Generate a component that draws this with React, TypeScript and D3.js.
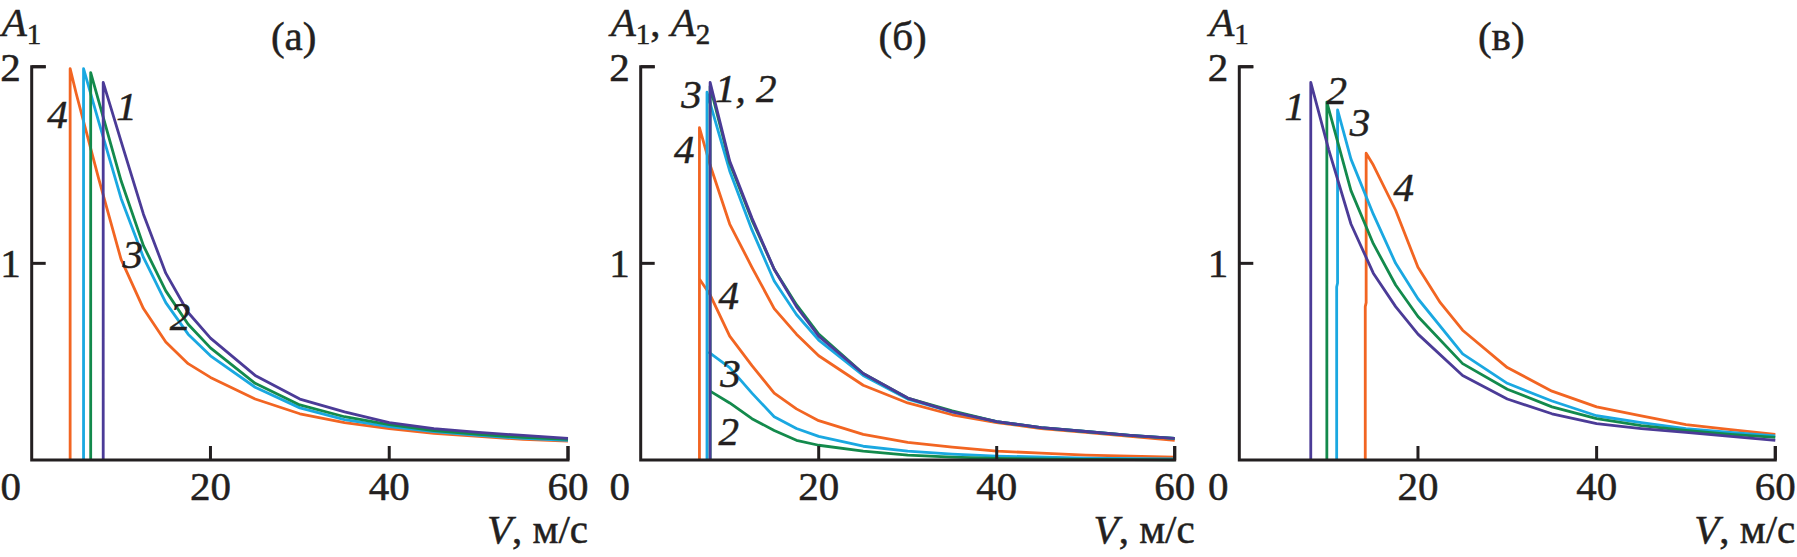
import React from "react";
import * as d3 from "d3";

type Pt = [number, number];

// Panel (a): A1 vs V
const a1: Pt[] = [[8.0, 0], [8.0, 1.92], [10, 1.62], [12.5, 1.25], [15, 0.95], [17.5, 0.75], [20, 0.62], [25, 0.43], [30, 0.31], [35, 0.245], [40, 0.19], [45, 0.16], [50, 0.14], [55, 0.125], [60, 0.11]];
const a2: Pt[] = [[6.6, 0], [6.6, 1.97], [10, 1.42], [12.5, 1.09], [15, 0.86], [17.5, 0.69], [20, 0.57], [25, 0.39], [30, 0.28], [35, 0.22], [40, 0.18], [45, 0.15], [50, 0.13], [55, 0.115], [60, 0.105]];
const a3: Pt[] = [[5.8, 0], [5.8, 1.99], [7.5, 1.72], [10, 1.33], [12.5, 1.03], [15, 0.8], [17.5, 0.64], [20, 0.53], [25, 0.37], [30, 0.265], [35, 0.205], [40, 0.17], [45, 0.145], [50, 0.125], [55, 0.11], [60, 0.1]];
const a4: Pt[] = [[4.3, 0], [4.3, 1.99], [5, 1.86], [7.5, 1.43], [10, 1.02], [12.5, 0.77], [15, 0.6], [17.5, 0.49], [20, 0.42], [25, 0.31], [30, 0.235], [35, 0.19], [40, 0.16], [45, 0.135], [50, 0.12], [55, 0.105], [60, 0.096]];

// Panel (б): A1 (upper) and A2 (lower)
const b1: Pt[] = [[7.8, 0], [7.8, 1.92], [10, 1.52], [12.5, 1.23], [15, 0.97], [17.5, 0.78], [20, 0.63], [25, 0.44], [30, 0.315], [35, 0.245], [40, 0.195], [45, 0.165], [50, 0.145], [55, 0.125], [60, 0.11]];
const b2: Pt[] = [[7.8, 0], [7.8, 1.9], [10, 1.51], [12.5, 1.22], [15, 0.97], [17.5, 0.79], [20, 0.64], [25, 0.44], [30, 0.315], [35, 0.25], [40, 0.195], [45, 0.165], [50, 0.145], [55, 0.125], [60, 0.11]];
const b3: Pt[] = [[7.45, 0], [7.45, 1.87], [10, 1.47], [12.5, 1.17], [15, 0.91], [17.5, 0.74], [20, 0.61], [25, 0.43], [30, 0.31], [35, 0.245], [40, 0.195], [45, 0.165], [50, 0.145], [55, 0.125], [60, 0.11]];
const b4: Pt[] = [[6.6, 0], [6.6, 1.69], [7.8, 1.5], [10, 1.2], [12.5, 0.98], [15, 0.77], [17.5, 0.64], [20, 0.53], [25, 0.38], [30, 0.29], [35, 0.23], [40, 0.19], [45, 0.16], [50, 0.14], [55, 0.12], [60, 0.1]];
const b2low: Pt[] = [[7.8, 0.35], [10, 0.29], [12.5, 0.21], [15, 0.15], [17.5, 0.1], [20, 0.075], [25, 0.045], [30, 0.025], [35, 0.015], [40, 0.008], [50, 0.003], [60, 0.001]];
const b3low: Pt[] = [[7.6, 0.55], [10, 0.47], [12.5, 0.34], [15, 0.22], [17.5, 0.16], [20, 0.12], [25, 0.07], [30, 0.045], [35, 0.03], [40, 0.02], [50, 0.01], [60, 0.005]];
const b4low: Pt[] = [[6.6, 0.92], [7.8, 0.84], [10, 0.63], [12.5, 0.48], [15, 0.34], [17.5, 0.26], [20, 0.2], [25, 0.13], [30, 0.09], [35, 0.065], [40, 0.045], [45, 0.035], [50, 0.025], [55, 0.02], [60, 0.015]];

// Panel (в): A1 vs V
const c1: Pt[] = [[8.0, 0], [8.0, 1.92], [10, 1.58], [12.5, 1.2], [15, 0.95], [17.5, 0.78], [20, 0.64], [25, 0.43], [30, 0.31], [35, 0.235], [40, 0.185], [45, 0.16], [50, 0.14], [55, 0.12], [60, 0.1]];
const c2: Pt[] = [[9.8, 0], [9.8, 1.82], [12.5, 1.37], [15, 1.1], [17.5, 0.89], [20, 0.73], [25, 0.49], [30, 0.36], [35, 0.27], [40, 0.21], [45, 0.175], [50, 0.15], [55, 0.13], [60, 0.115]];
const c3: Pt[] = [[10.9, 0], [10.9, 0.88], [11.0, 0.9], [11.0, 1.78], [12.5, 1.53], [15, 1.25], [17.5, 1.0], [20, 0.82], [25, 0.54], [30, 0.39], [35, 0.3], [40, 0.225], [45, 0.19], [50, 0.16], [55, 0.14], [60, 0.123]];
const c4: Pt[] = [[14.1, 0], [14.1, 0.78], [14.2, 0.8], [14.2, 1.56], [15, 1.5], [17.5, 1.27], [20, 0.98], [22.5, 0.8], [25, 0.66], [30, 0.47], [35, 0.35], [40, 0.27], [45, 0.225], [50, 0.18], [55, 0.155], [60, 0.13]];

const xTicks = [20, 40, 60];
const yTicks = [1, 2];
const panelTitles = ["(а)", "(б)", "(в)"];

const COL = {
  purple: "#4b3b97",
  green: "#138a4c",
  cyan: "#1aa8e1",
  orange: "#f26522",
};

const FONT = "'Liberation Serif', 'Times New Roman', serif";
const FS = 41;
const INK = "#231f20";

type Series = { data: Pt[]; color: string };
type Lbl = { text: string; v: number; a: number };

const panels: { x0: number; w: number; title: string; yLabel: string[]; series: Series[]; labels: Lbl[] }[] = [
  {
    x0: 31.7,
    w: 536.3,
    title: panelTitles[0],
    yLabel: ["1"],
    series: [
      { data: a4, color: COL.orange },
      { data: a3, color: COL.cyan },
      { data: a2, color: COL.green },
      { data: a1, color: COL.purple },
    ],
    labels: [
      { text: "4", v: 2.9, a: 1.76 },
      { text: "1", v: 10.6, a: 1.8 },
      { text: "3", v: 11.3, a: 1.05 },
      { text: "2", v: 16.6, a: 0.73 },
    ],
  },
  {
    x0: 640.7,
    w: 534,
    title: panelTitles[1],
    yLabel: ["1", "2"],
    series: [
      { data: b4low, color: COL.orange },
      { data: b3low, color: COL.cyan },
      { data: b2low, color: COL.green },
      { data: b4, color: COL.orange },
      { data: b3, color: COL.cyan },
      { data: b2, color: COL.green },
      { data: b1, color: COL.purple },
    ],
    labels: [
      { text: "3", v: 5.7, a: 1.86 },
      { text: "1, 2", v: 11.8, a: 1.89 },
      { text: "4", v: 4.9, a: 1.58 },
      { text: "4", v: 9.9, a: 0.84 },
      { text: "3", v: 10.1, a: 0.44 },
      { text: "2", v: 9.9, a: 0.15 },
    ],
  },
  {
    x0: 1239.3,
    w: 536,
    title: panelTitles[2],
    yLabel: ["1"],
    series: [
      { data: c4, color: COL.orange },
      { data: c3, color: COL.cyan },
      { data: c2, color: COL.green },
      { data: c1, color: COL.purple },
    ],
    labels: [
      { text: "1", v: 6.2, a: 1.8 },
      { text: "2", v: 10.9, a: 1.88 },
      { text: "3", v: 13.5, a: 1.72 },
      { text: "4", v: 18.4, a: 1.39 },
    ],
  },
];

const Y0 = 460;
const Y2 = 66.7;

function Panel({ p }: { p: (typeof panels)[number] }) {
  const x = d3.scaleLinear().domain([0, 60]).range([p.x0, p.x0 + p.w]);
  const y = d3.scaleLinear().domain([0, 2]).range([Y0, Y2]);
  const line = d3
    .line<Pt>()
    .x((d) => x(d[0]))
    .y((d) => y(d[1]));
  const tick = 14;
  const txt = { fontSize: FS, fontFamily: FONT, fill: INK, stroke: INK, strokeWidth: 0.5 };
  return (
    <g>
      {p.series.map((s, i) => (
        <path key={i} d={line(s.data) || ""} fill="none" stroke={s.color} strokeWidth={2.8} strokeLinejoin="round" />
      ))}
      {/* axes */}
      <path
        d={`M${x(0) + tick},${y(2)} H${x(0)} V${y(0)} H${x(60)} V${y(0) - tick}`}
        fill="none"
        stroke={INK}
        strokeWidth={3}
      />
      {yTicks.map((t) => (
        <line key={"yt" + t} x1={x(0)} x2={x(0) + tick} y1={y(t)} y2={y(t)} stroke={INK} strokeWidth={3} />
      ))}
      {xTicks.map((t) => (
        <line key={"xt" + t} x1={x(t)} x2={x(t)} y1={y(0)} y2={y(0) - tick} stroke={INK} strokeWidth={3} />
      ))}
      {/* tick labels */}
      {yTicks.map((t) => (
        <text key={"yl" + t} x={x(0) - 11} y={y(t) + 14} textAnchor="end" {...txt}>
          {t}
        </text>
      ))}
      <text x={x(0) - 21} y={500} textAnchor="middle" {...txt}>
        0
      </text>
      {xTicks.map((t) => (
        <text key={"xl" + t} x={x(t)} y={500} textAnchor="middle" {...txt}>
          {t}
        </text>
      ))}
      {/* axis titles */}
      <text x={x(60) + 20} y={543} textAnchor="end" {...txt}>
        <tspan fontStyle="italic">V</tspan>, м/с
      </text>
      <text x={x(0) - 30} y={36} {...txt}>
        {p.yLabel.map((s, i) => (
          <React.Fragment key={i}>
            {i > 0 ? <tspan dy={-8}>, </tspan> : null}
            <tspan fontStyle="italic">A</tspan>
            <tspan fontSize={29} dy={8}>{s}</tspan>
          </React.Fragment>
        ))}
      </text>
      <text x={x(0) + 262} y={50} textAnchor="middle" {...txt}>
        {p.title}
      </text>
      {/* curve labels */}
      {p.labels.map((l, i) => (
        <text key={"cl" + i} x={x(l.v)} y={y(l.a) + 14} textAnchor="middle" fontStyle="italic" {...txt}>
          {l.text}
        </text>
      ))}
    </g>
  );
}

export default function App() {
  return (
    <svg
      width={1797}
      height={557}
      viewBox="0 0 1797 557"
      style={{ position: "absolute", left: 0, top: 0, background: "#fff" }}
    >
      <rect width={1797} height={557} fill="#fff" />
      {panels.map((p, i) => (
        <Panel key={i} p={p} />
      ))}
    </svg>
  );
}
